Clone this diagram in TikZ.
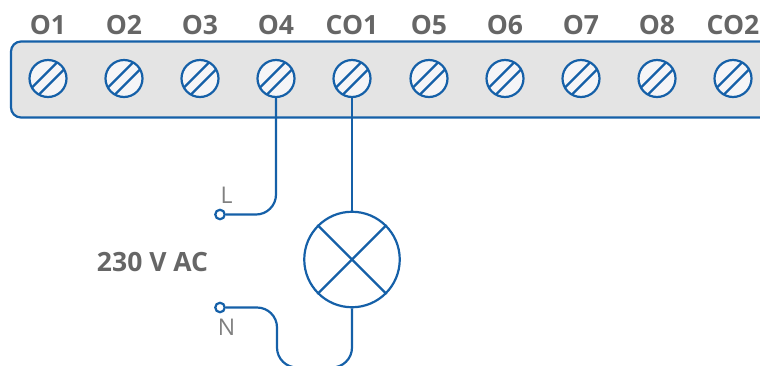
\documentclass[tikz,border=0pt]{standalone}
\usepackage{fontspec}
\setmainfont{Open Sans}
\definecolor{wireblue}{HTML}{1560A8}
\definecolor{panelgrey}{HTML}{E4E4E4}
\definecolor{screwfill}{HTML}{F5F5F7}
\definecolor{labelgrey}{HTML}{666666}
\definecolor{thingrey}{HTML}{808080}
\tikzset{
  x=1pt,y=-1pt,
  wire/.style={draw=wireblue,line width=2.2pt},
  screwnode/.style={circle,draw=wireblue,line width=2.2pt,fill=screwfill,minimum size=37pt,inner sep=0pt},
  termlabel/.style={font=\bfseries\fontsize{26.5}{26.5}\selectfont,text=labelgrey,inner sep=0pt},
  endnode/.style={circle,draw=wireblue,line width=2.2pt,fill=white,minimum size=9.5pt,inner sep=0pt},
  lamp/.style={circle,draw=wireblue,line width=2.2pt,fill=white,minimum size=95.5pt,inner sep=0pt},
  wirelabel/.style={font=\fontsize{23}{23}\selectfont,text=thingrey,inner sep=0pt},
  voltlabel/.style={font=\bfseries\fontsize{26.5}{26.5}\selectfont,text=labelgrey,inner sep=0pt},
}
\begin{document}
\begin{tikzpicture}
\useasboundingbox (0,0) rectangle (760,365);
\clip (0,0) rectangle (760,365);
\path[wire,fill=panelgrey,rounded corners=10pt] (790,41.5) -- (11,41.5) -- (11,117.5) -- (790,117.5);
\foreach \n/\x/\t in {a/48/O1,b/124/O2,c/200/O3,d/276/O4,e/352/CO1,f/429/O5,g/505/O6,h/581/O7,i/657/O8,j/733/CO2}{
  \node[screwnode] (s\n) at (\x,78.5) {};
  \draw[wireblue,line width=2.2pt] (s\n.center) ++(3.5,3.5) ++(12.2,-12.2) -- ++(-24.4,24.4);
  \draw[wireblue,line width=2.2pt] (s\n.center) ++(-3.5,-3.5) ++(12.2,-12.2) -- ++(-24.4,24.4);
  \node[termlabel] (t\n) at (\x,25.5) {\t};
}
\node[lamp] (lamp) at (352,259.5) {};
\draw[wire] (lamp.45) -- (lamp.225);
\draw[wire] (lamp.135) -- (lamp.315);
\node[endnode] (L) at (220,214.5) {};
\node[endnode] (N) at (220,307.5) {};
\node[wirelabel] (Ltext) at (226.5,195) {L};
\node[wirelabel] (Ntext) at (226.5,327.5) {N};
\node[voltlabel] (volt) at (152.5,262.5) {230 V AC};
\draw[wire,rounded corners=20pt] (sd.south) -- (sd.south |- L) -- (L.east);
\draw[wire] (se.south) -- (lamp.north);
\draw[wire,rounded corners=20pt] (N.east) -- (277,307.5) -- (277,367.5) -- (lamp.south |- 0,367.5) -- (lamp.south);
\end{tikzpicture}
\end{document}
